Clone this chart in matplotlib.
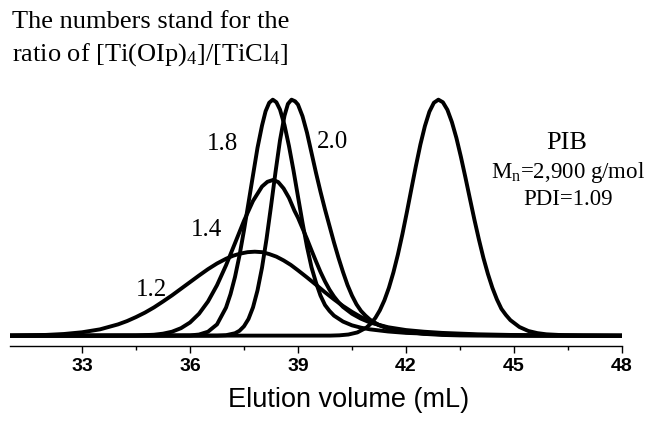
import matplotlib.pyplot as plt
from matplotlib.ticker import FixedLocator

plt.rcParams['mathtext.fontset'] = 'custom'
plt.rcParams['mathtext.rm'] = 'Liberation Serif'
plt.rcParams['mathtext.default'] = 'rm'

# GPC traces, normalized detector response
v_12 = [31, 32, 32.5, 33, 33.5, 34, 34.25, 34.5, 34.75, 35, 35.25, 35.5, 35.75, 36, 36.25, 36.5,
        36.75, 37, 37.2, 37.4, 37.6, 37.8, 38, 38.2, 38.4, 38.6, 38.8, 39, 39.25, 39.5, 39.75,
        40, 40.25, 40.5, 40.75, 41, 41.25, 41.5, 42, 42.5, 43, 43.5, 44, 48]
h_12 = [0.001, 0.0034, 0.0073, 0.0146, 0.027, 0.048, 0.062, 0.079, 0.098, 0.12, 0.145, 0.171,
        0.199, 0.227, 0.255, 0.282, 0.306, 0.326, 0.339, 0.348, 0.354, 0.356, 0.354, 0.346, 0.335,
        0.319, 0.30, 0.277, 0.247, 0.216, 0.184, 0.154, 0.126, 0.101, 0.079, 0.061, 0.045, 0.033,
        0.017, 0.0078, 0.0033, 0.0013, 0.0005, 0.0]

v_14 = [31, 34.5, 35, 35.25, 35.5, 35.75, 36, 36.25, 36.5, 36.75, 37, 37.25, 37.5, 37.75, 38,
        38.15, 38.31, 38.45, 38.6, 38.75, 38.9, 39, 39.125, 39.25, 39.375, 39.5, 39.625, 39.75,
        39.875, 40, 40.125, 40.25, 40.5, 40.75, 41, 41.5, 42, 42.5, 43, 44, 45, 46, 48]
h_14 = [0.0, 0.0008, 0.0042, 0.0087, 0.017, 0.032, 0.056, 0.093, 0.145, 0.214, 0.298, 0.392,
        0.487, 0.571, 0.632, 0.652, 0.66, 0.651, 0.624, 0.584, 0.53, 0.50, 0.455, 0.41, 0.362,
        0.315, 0.27, 0.23, 0.195, 0.166, 0.142, 0.122, 0.093, 0.072, 0.056, 0.036, 0.024, 0.017,
        0.012, 0.006, 0.003, 0.001, 0.0]

v_18 = [31, 36, 36.25, 36.5, 36.75, 37, 37.125, 37.25, 37.375, 37.5, 37.625, 37.75, 37.875, 38,
        38.1, 38.2, 38.3, 38.4, 38.5, 38.625, 38.75, 38.875, 39, 39.125, 39.25, 39.375, 39.5,
        39.625, 39.75, 39.875, 40, 40.25, 40.5, 40.75, 41, 41.5, 42, 43, 44, 45, 48]
h_18 = [0.0, 0.0013, 0.005, 0.017, 0.048, 0.119, 0.176, 0.249, 0.34, 0.447, 0.563, 0.68, 0.796,
        0.89, 0.951, 0.987, 1.0, 0.989, 0.958, 0.892, 0.803, 0.70, 0.589, 0.479, 0.377, 0.29,
        0.225, 0.17, 0.13, 0.105, 0.085, 0.06, 0.044, 0.034, 0.027, 0.018, 0.012, 0.006, 0.003,
        0.001, 0.0]

v_20 = [31, 36.75, 37, 37.25, 37.375, 37.5, 37.625, 37.75, 37.875, 38, 38.125, 38.25, 38.375,
        38.5, 38.625, 38.72, 38.82, 38.92, 39, 39.125, 39.25, 39.375, 39.5, 39.625, 39.75,
        39.875, 40, 40.125, 40.25, 40.375, 40.5, 40.625, 40.75, 40.875, 41, 41.25, 41.5, 41.75,
        42, 42.5, 43, 44, 45, 48]
h_20 = [0.0, 0.0004, 0.0022, 0.0105, 0.021, 0.04, 0.071, 0.12, 0.192, 0.288, 0.409, 0.548,
        0.693, 0.828, 0.932, 0.982, 1.0, 0.993, 0.979, 0.93, 0.86, 0.775, 0.69, 0.61, 0.535,
        0.465, 0.395, 0.33, 0.27, 0.215, 0.17, 0.133, 0.105, 0.085, 0.068, 0.045, 0.03, 0.021,
        0.015, 0.01, 0.007, 0.003, 0.001, 0.0]

v_pib = [31, 39.9, 40.15, 40.4, 40.65, 40.9, 41.025, 41.15, 41.275, 41.4, 41.525, 41.65, 41.775,
         41.9, 42.025, 42.15, 42.275, 42.4, 42.525, 42.65, 42.775, 42.9, 43.025, 43.15, 43.275,
         43.4, 43.525, 43.65, 43.775, 43.9, 44.025, 44.15, 44.275, 44.4, 44.525, 44.65, 44.775,
         44.9, 45.15, 45.4, 45.65, 45.9, 46.4, 46.9, 48]
h_pib = [0.0, 0.0005, 0.0017, 0.0051, 0.014, 0.0343, 0.0516, 0.0756, 0.108, 0.15, 0.203, 0.268,
         0.344, 0.43, 0.524, 0.622, 0.719, 0.81, 0.888, 0.949, 0.987, 1.0, 0.989, 0.957, 0.905,
         0.838, 0.758, 0.671, 0.581, 0.492, 0.408, 0.33, 0.262, 0.203, 0.154, 0.114, 0.088,
         0.066, 0.037, 0.02, 0.011, 0.006, 0.002, 0.0005, 0.0]

fig = plt.figure(figsize=(6.5, 4.23), dpi=100)
ax = fig.add_axes([0.0154, 0.182, 0.9415, 0.747])

for v, h in [(v_12, h_12), (v_14, h_14), (v_18, h_18), (v_20, h_20), (v_pib, h_pib)]:
    ax.plot(v, h, color='black', lw=2.8, solid_capstyle='round', solid_joinstyle='round')

ax.set_xlim(31, 48)
ax.set_ylim(-0.0436, 1.295)

for s in ['left', 'right', 'top']:
    ax.spines[s].set_visible(False)
ax.spines['bottom'].set_linewidth(1.0)
ax.set_yticks([])
ax.xaxis.set_major_locator(FixedLocator([33, 36, 39, 42, 45, 48]))
ax.xaxis.set_minor_locator(FixedLocator([34.5, 37.5, 40.5, 43.5, 46.5]))
ax.tick_params(axis='x', which='major', length=5, width=1.0, direction='out')
ax.tick_params(axis='x', which='minor', length=3, width=1.0, direction='out')
for lab in ax.get_xticklabels():
    lab.set_fontfamily('Liberation Sans')
    lab.set_fontweight('bold')
    lab.set_fontsize(14)

serif = 'Liberation Serif'
ax.text(36.89, 0.812, '1.8', fontsize=18, family=serif, ha='center', va='center')
ax.text(39.97, 0.82, '2.0', fontsize=18, family=serif, ha='center', va='center')
ax.text(36.47, 0.448, '1.4', fontsize=18, family=serif, ha='center', va='center')
ax.text(34.94, 0.194, '1.2', fontsize=18, family=serif, ha='center', va='center')
ax.text(46.47, 0.816, 'PIB', fontsize=19, family=serif, ha='center', va='center')
ax.text(46.5, 0.693, 'M$_n$=2,900 g/mol', fontsize=16.5, family=serif, ha='center', va='center')
ax.text(46.5, 0.575, 'PDI=1.09', fontsize=16.5, family=serif, ha='center', va='center')

fig.text(12 / 650, 1 - 22 / 423, 'The numbers stand for the', fontsize=19, family=serif,
         ha='left', va='center')
fig.text(12 / 650, 1 - 55 / 423, 'ratio of [Ti(OIp)$_4$]/[TiCl$_4$]', fontsize=19, family=serif,
         ha='left', va='center')

fig.text(349 / 650, 1 - 400 / 423, 'Elution volume (mL)', fontsize=19.5, family='Liberation Sans',
         ha='center', va='center')

fig.savefig('out.png', dpi=100)
